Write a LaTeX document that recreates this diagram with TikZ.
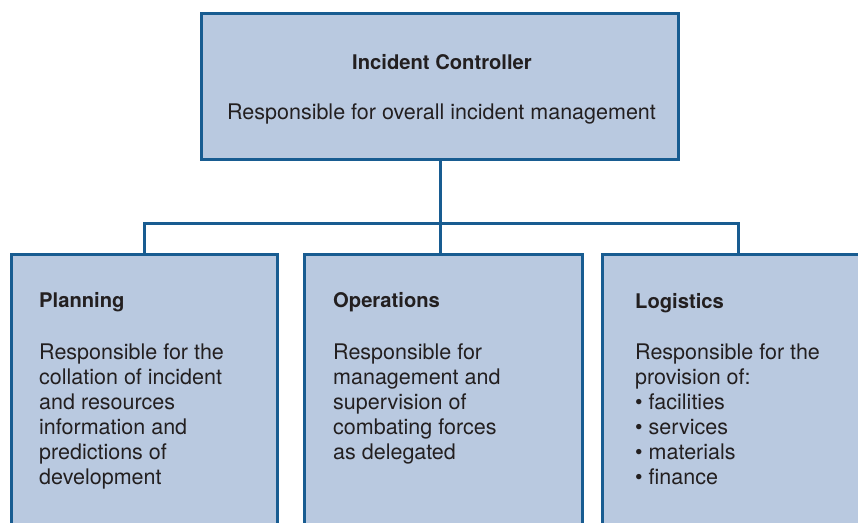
\documentclass[tikz,border=0pt]{standalone}
\usepackage{fontspec}
\setmainfont{TeX Gyre Heros}
\definecolor{boxfill}{HTML}{B9C9E0}
\definecolor{boxline}{HTML}{185C91}
\definecolor{txt}{HTML}{231F20}
\begin{document}
\begin{tikzpicture}[x=1pt,y=-1pt,
  box/.style={draw=boxline,fill=boxfill,line width=3pt,rectangle,inner sep=0pt},
  wire/.style={draw=boxline,line width=3pt},
  lbl/.style={text=txt,inner sep=0pt,font=\fontsize{21.5}{25}\selectfont},
  head/.style={text=txt,inner sep=0pt,font=\fontsize{20.2}{25}\selectfont\bfseries},
  body/.style={lbl,align=left,anchor=base west}]
\useasboundingbox (0,0) rectangle (858,522);
\clip (0,0) rectangle (858,522);
\node[box,minimum width=477pt,minimum height=146pt] (ic) at (440,86.5) {};
\node[box,minimum width=266pt,minimum height=300pt] (pl) at (144,404) {};
\node[box,minimum width=278pt,minimum height=300pt] (op) at (443,404) {};
\node[box,minimum width=272pt,minimum height=300pt] (lg) at (738,404) {};
\coordinate (bar) at (440,223);
\draw[wire] (ic.south) -- (ic.south |- op.north);
\draw[wire] (pl.north) |- (bar) -| (lg.north);
\node[head,anchor=base] (ict) at (442,69) {Incident Controller};
\node[lbl,anchor=base] (icb) at (441.5,119) {Responsible for overall incident management};
\node[head,anchor=base west] (plt) at (39,307) {Planning};
\node[body] (plb) at (39,484) {Responsible for the\\collation of incident\\and resources\\information and\\predictions of\\development};
\node[head,anchor=base west] (opt) at (333,307) {Operations};
\node[body] (opb) at (333,459) {Responsible for\\management and\\supervision of\\combating forces\\as delegated};
\node[head,anchor=base west] (lgt) at (635,308) {Logistics};
\node[body] (lgb) at (635,484) {Responsible for the\\provision of:\\\textbullet{} facilities\\\textbullet{} services\\\textbullet{} materials\\\textbullet{} finance};
\end{tikzpicture}
\end{document}
